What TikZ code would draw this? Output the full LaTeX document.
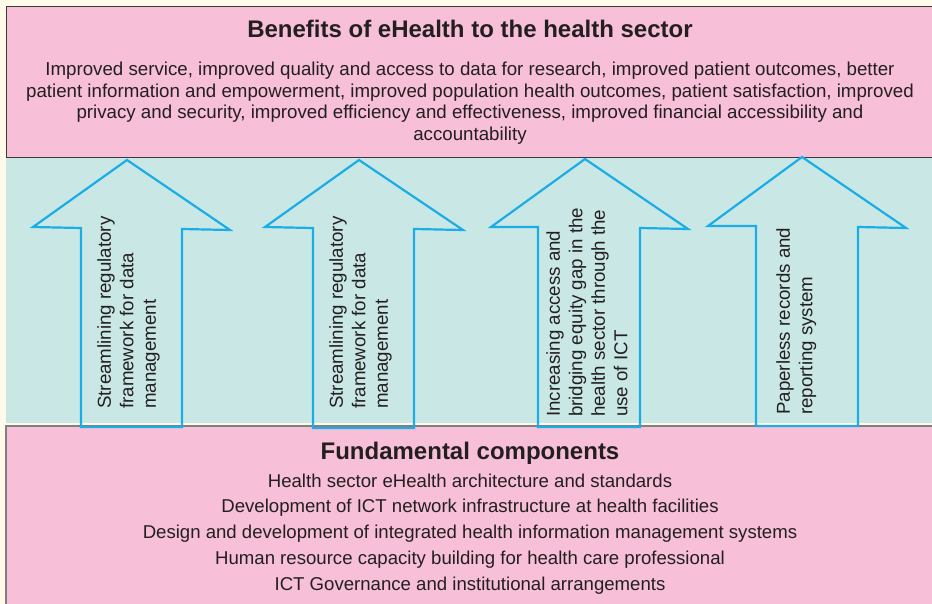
\documentclass[tikz,border=0pt]{standalone}
\usepackage{fontspec}
\setmainfont{Liberation Sans}
\definecolor{pinkbox}{HTML}{F7BFD8}
\definecolor{tealband}{HTML}{C9E8E5}
\definecolor{creamback}{HTML}{FFFBEA}
\definecolor{arrowblue}{HTML}{1AADE6}
\definecolor{inkgray}{HTML}{231F20}
\definecolor{rulegray}{HTML}{3A3A3A}
\begin{document}
\begin{tikzpicture}[x=1pt, y=-1pt,
    every node/.style={text=inkgray, inner sep=0pt},
    uparrow/.style={draw=arrowblue, line width=2.2pt, line join=miter},
    arrowtext/.style={rotate=90, anchor=north west, align=left, font=\fontsize{18.7}{22.5}\selectfont},
    boxtitle/.style={anchor=base, font=\fontsize{24}{28}\selectfont\bfseries},
    compline/.style={anchor=base, font=\fontsize{18.6}{22}\selectfont}]
    \useasboundingbox (0,0) rectangle (932,604);
    \clip (0,0) rectangle (932,604);
    \fill [creamback] (0,0) rectangle (932,604);
    % bands
    \fill [pinkbox] (6,7) rectangle (940,158);
    \draw [rulegray, line width=1pt] (940,7) -- (6,7) -- (6,158) -- (940,158);
    \fill [tealband] (6,158.5) rectangle (940,423);
    \fill [pinkbox] (6,426) rectangle (940,610);
    \draw [gray, line width=1.5pt] (940,426) -- (6,426) -- (6,610);

    % top box
    \node [boxtitle] (Benefits) at (470,38) {Benefits of eHealth to the health sector};
    \node [anchor=north, align=center, font=\fontsize{18.7}{21.6}\selectfont] (BenefitsList) at (470,62)
        {Improved service, improved quality and access to data for research, improved patient outcomes, better\\
         patient information and empowerment, improved population health outcomes, patient satisfaction, improved\\
         privacy and security, improved efficiency and effectiveness, improved financial accessibility and\\
         accountability};

    % arrows
    \draw [uparrow] (127,160) -- (230,230) -- (182,229) -- (182,427) -- (81,427) -- (81,228) -- (33,227) -- cycle;
    \draw [uparrow] (359,160) -- (463,230) -- (414,229) -- (414,428) -- (313,428) -- (313,228) -- (265,227) -- cycle;
    \draw [uparrow] (585,159) -- (688,229) -- (640,228) -- (640,427) -- (538,427) -- (538,227) -- (491,227) -- cycle;
    \draw [uparrow] (802,157) -- (906,228) -- (858,227) -- (858,426) -- (756,426) -- (756,226) -- (708,226) -- cycle;

    \node [arrowtext] (Regulatory) at (97,409) {Streamlining regulatory\\framework for data\\management};
    \node [arrowtext] (RegulatoryB) at (329,409) {Streamlining regulatory\\framework for data\\management};
    \node [arrowtext] (Equity) at (546,417) {Increasing access and\\bridging equity gap in the\\health sector through the\\use of ICT};
    \node [arrowtext] (Paperless) at (776,415) {Paperless records and\\reporting system};

    % bottom box
    \node [boxtitle] (Components) at (470,459) {Fundamental components};
    \node [compline] (Architecture) at (470,487) {Health sector eHealth architecture and standards};
    \node [compline] (Network) at (470,512) {Development of ICT network infrastructure at health facilities};
    \node [compline] (Systems) at (470,538) {Design and development of integrated health information management systems};
    \node [compline] (Capacity) at (470,564) {Human resource capacity building for health care professional};
    \node [compline] (Governance) at (470,590) {ICT Governance and institutional arrangements};
\end{tikzpicture}
\end{document}
